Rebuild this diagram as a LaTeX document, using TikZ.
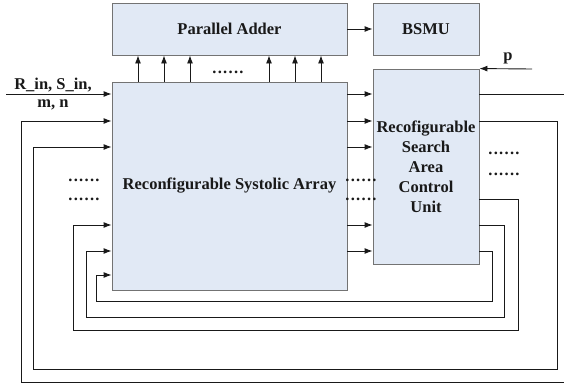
\documentclass[tikz,border=0pt]{standalone}
\usepackage{fontspec}
\setmainfont{Liberation Serif}
\usetikzlibrary{arrows.meta}
\definecolor{boxfill}{RGB}{225,233,245}
\definecolor{boxline}{RGB}{115,115,115}
\definecolor{wire}{RGB}{25,25,25}
% a row of six spaced dots
\newcommand{\dotrow}{.\kern1.3pt.\kern1.3pt.\kern1.3pt.\kern1.3pt.\kern1.3pt.}
\begin{document}
\begin{tikzpicture}[x=1pt,y=-1pt,
  lblfont/.style={font=\bfseries\fontsize{16.5}{20}\selectfont},
  blk/.style={draw=boxline, fill=boxfill, line width=0.9pt, inner sep=0pt,
              align=center, text=black!90, lblfont},
  lbl/.style={inner sep=0pt, text=black!90, lblfont},
  dotlbl/.style={inner sep=0pt, text=black!90, lblfont},
  arr/.style={draw=wire, line width=0.9pt, -{Latex[length=8pt,width=6pt]}}]
\useasboundingbox (0,0) rectangle (564,386);

% blocks
\node[blk, minimum width=235pt, minimum height=52pt]  (pa)   at (229.5,29)  {Parallel Adder};
\node[blk, minimum width=106pt, minimum height=52pt]  (bsmu) at (426,29)    {BSMU};
\node[blk, minimum width=235pt, minimum height=208pt] (sa)   at (229.5,186) {Reconfigurable Systolic Array};
\node[blk, minimum width=106pt, minimum height=195pt] (cu)   at (426,166.5) {Recofigurable\\Search\\Area\\Control\\Unit};

% adder to BSMU
\draw[arr] (pa.east) -- (bsmu.west);

% partial results up to the adder
\foreach \x in {138,164,190,269,295,321}
  \draw[arr] (sa.north -| \x,0) -- (pa.south -| \x,0);
\node[dotlbl] (topdots) at (228,72) {\dotrow};

% external inputs
\coordinate (rin) at (6,94);
\draw[arr] (rin) -- (sa.west |- rin);
\node[lbl, anchor=base] (rinlbl) at (53,89) {R\_in, S\_in,};
\node[lbl, anchor=base] (mnlbl)  at (53,107) {m, n};

\coordinate (pin) at (532,69);
\draw[arr] (pin) -- (cu.north east);
\node[lbl] (plbl) at (508,58) {p};

% array outputs into the control unit
\foreach \y in {94,121,147,225,251}
  \draw[arr] (sa.east |- 0,\y) -- (cu.west |- 0,\y);

% feedback loops from the control unit back into the array
\foreach \a/\xr/\yb/\xl/\b in {94/567/382/21/121, 121/557/369/33/147,
                               199/518/330/73/225, 225/504/317/86/251,
                               251/492/301/96/275}
  \draw[arr] (cu.east |- 0,\a) -| (\xr,\yb) -| (\xl,\b) -- (sa.west |- 0,\b);

% elided channels
\node[dotlbl] (ldots1) at (84,180)  {\dotrow};
\node[dotlbl] (ldots2) at (84,199)  {\dotrow};
\node[dotlbl] (mdots1) at (361,180) {\dotrow};
\node[dotlbl] (mdots2) at (361,199) {\dotrow};
\node[dotlbl] (rdots1) at (504,153) {\dotrow};
\node[dotlbl] (rdots2) at (504,174) {\dotrow};
\end{tikzpicture}
\end{document}
